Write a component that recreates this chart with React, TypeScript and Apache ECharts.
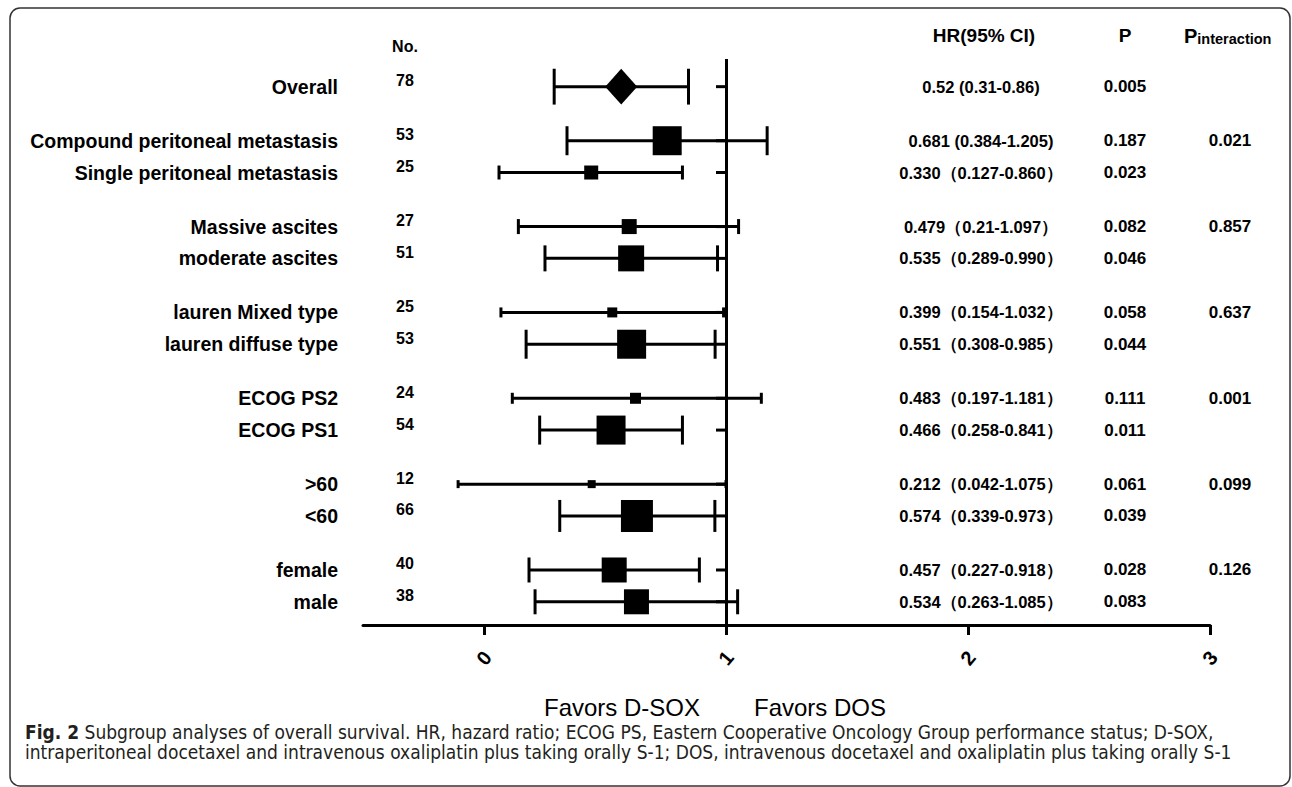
import React, { useEffect, useRef } from "react";
import * as echarts from "echarts";

const LABELS = [
  "Overall",
  "Compound peritoneal metastasis",
  "Single peritoneal metastasis",
  "Massive ascites",
  "moderate ascites",
  "lauren Mixed type",
  "lauren diffuse type",
  "ECOG PS2",
  "ECOG PS1",
  ">60",
  "<60",
  "female",
  "male",
];
const NUMBERS = ["78", "53", "25", "27", "51", "25", "53", "24", "54", "12", "66", "40", "38"];
const ROW_POS = [0, 1.7, 2.7, 4.4, 5.4, 7.1, 8.1, 9.8, 10.8, 12.5, 13.5, 15.2, 16.2];
const HR_POINT = [0.567, 0.757, 0.443, 0.6, 0.608, 0.53, 0.61, 0.626, 0.525, 0.445, 0.632, 0.538, 0.63];
const CI_LOW = [0.29, 0.343, 0.062, 0.142, 0.252, 0.07, 0.174, 0.117, 0.23, -0.107, 0.313, 0.186, 0.211];
const CI_HIGH = [0.845, 1.17, 0.82, 1.052, 0.965, 0.99, 0.955, 1.146, 0.82, 1.0, 0.954, 0.89, 1.048];
const MARKER_SIZE = [32, 29, 14, 15, 26, 10, 29, 11, 29, 8, 32, 25, 25];
const MARKER_SHAPE = ["diamond", "rect", "rect", "rect", "rect", "rect", "rect", "rect", "rect", "rect", "rect", "rect", "rect"];
const HR_TEXT = [
  "0.52 (0.31-0.86)",
  "0.681 (0.384-1.205)",
  "0.330（0.127-0.860）",
  "0.479（0.21-1.097）",
  "0.535（0.289-0.990）",
  "0.399（0.154-1.032）",
  "0.551（0.308-0.985）",
  "0.483（0.197-1.181）",
  "0.466（0.258-0.841）",
  "0.212（0.042-1.075）",
  "0.574（0.339-0.973）",
  "0.457（0.227-0.918）",
  "0.534（0.263-1.085）",
];
const P_VALUE = ["0.005", "0.187", "0.023", "0.082", "0.046", "0.058", "0.044", "0.111", "0.011", "0.061", "0.039", "0.028", "0.083"];
const P_INTERACTION = ["", "0.021", "", "0.857", "", "0.637", "", "0.001", "", "0.099", "", "0.126", ""];
const X_TICKS = [0, 1, 2, 3];
const CAPTION_1 =
  " Subgroup analyses of overall survival. HR, hazard ratio; ECOG PS, Eastern Cooperative Oncology Group performance status; D-SOX,";
const CAPTION_2 =
  "intraperitoneal docetaxel and intravenous oxaliplatin plus taking orally S-1; DOS, intravenous docetaxel and oxaliplatin plus taking orally S-1";

const FONT = "'Liberation Sans', Arial, sans-serif";
const CAPTION_FONT = "'DejaVu Sans Condensed', 'Liberation Sans Narrow', sans-serif";

export default function App() {
  const ref = useRef<HTMLDivElement>(null);
  useEffect(() => {
    if (!ref.current) return;
    const chart = echarts.init(ref.current, undefined, { renderer: "svg" });
    const capH = (i: number) => (MARKER_SHAPE[i] === "diamond" ? MARKER_SIZE[i] * 1.12 : MARKER_SIZE[i]);

    const option: any = {
      animation: false,
      backgroundColor: "#fff",
      grid: { left: 363, right: 82, top: 59, bottom: 162 },
      xAxis: {
        type: "value",
        min: -0.5,
        max: 3,
        axisLine: { show: true, onZero: false, lineStyle: { color: "#000", width: 3 } },
        axisTick: { show: true, customValues: X_TICKS, length: 10, lineStyle: { color: "#000", width: 3 } },
        axisLabel: {
          customValues: X_TICKS,
          rotate: 50,
          align: "center",
          verticalAlign: "middle",
          margin: 33,
          color: "#000",
          fontSize: 20,
          fontWeight: "bold",
          fontFamily: FONT,
        },
        splitLine: { show: false },
      },
      yAxis: {
        type: "value",
        inverse: true,
        min: -0.87,
        max: 16.93,
        show: false,
      },
      graphic: [
        {
          type: "rect",
          shape: { x: 10, y: 8, width: 1280, height: 778, r: 10 },
          style: { fill: "none", stroke: "#333", lineWidth: 1.5 },
          silent: true,
        },
        {
          type: "text",
          x: 405,
          y: 46,
          style: { text: "No.", fill: "#000", fontSize: 16, fontWeight: "bold", fontFamily: FONT, align: "center", verticalAlign: "middle" },
        },
        {
          type: "text",
          x: 984,
          y: 35,
          style: { text: "HR(95% CI)", fill: "#000", fontSize: 19, fontWeight: "bold", fontFamily: FONT, align: "center", verticalAlign: "middle" },
        },
        {
          type: "text",
          x: 1125,
          y: 35,
          style: { text: "P", fill: "#000", fontSize: 19, fontWeight: "bold", fontFamily: FONT, align: "center", verticalAlign: "middle" },
        },
        {
          type: "text",
          x: 1184,
          y: 36,
          style: {
            text: "{a|P}{b|interaction}",
            fill: "#000",
            align: "left",
            verticalAlign: "middle",
            rich: {
              a: { fontSize: 20, fontWeight: "bold", fontFamily: FONT, fill: "#000", verticalAlign: "bottom" },
              b: { fontSize: 14.5, fontWeight: "bold", fontFamily: FONT, fill: "#000", verticalAlign: "bottom" },
            },
          },
        },
        {
          type: "text",
          x: 622,
          y: 707,
          style: { text: "Favors D-SOX", fill: "#000", fontSize: 24, fontFamily: FONT, align: "center", verticalAlign: "middle" },
        },
        {
          type: "text",
          x: 754,
          y: 707,
          style: { text: "Favors DOS", fill: "#000", fontSize: 24, fontFamily: FONT, align: "left", verticalAlign: "middle" },
        },
        {
          type: "text",
          x: 25,
          y: 732,
          style: {
            text: "{b|Fig. 2}{r|" + CAPTION_1 + "}",
            align: "left",
            verticalAlign: "middle",
            rich: {
              b: { fontSize: 19, fontWeight: "bold", fontFamily: CAPTION_FONT, fill: "#231f20" },
              r: { fontSize: 19, fontFamily: CAPTION_FONT, fill: "#231f20" },
            },
          },
        },
        {
          type: "text",
          x: 25,
          y: 752,
          style: {
            text: CAPTION_2,
            fill: "#231f20",
            fontSize: 19,
            fontFamily: CAPTION_FONT,
            align: "left",
            verticalAlign: "middle",
          },
        },
      ],
      series: [
        {
          type: "scatter",
          name: "ticks",
          symbol: "rect",
          symbolSize: [10, 3],
          symbolOffset: [-5, 0],
          itemStyle: { color: "#000", opacity: 1 },
          data: ROW_POS.map((r) => [1, r]),
          silent: true,
          z: 2,
          markLine: {
            silent: true,
            symbol: ["none", "none"],
            label: { show: false },
            lineStyle: { color: "#000", width: 3, type: "solid" },
            data: [{ xAxis: 1 }],
          },
        },
        {
          type: "custom",
          name: "ci",
          clip: false,
          z: 3,
          data: ROW_POS.map((r, i) => [CI_LOW[i], CI_HIGH[i], r, capH(i)]),
          renderItem: (params: any, api: any) => {
            const row = api.value(2);
            const lo = api.coord([api.value(0), row]);
            const hi = api.coord([api.value(1), row]);
            const h = api.value(3) / 2;
            const style = { stroke: "#000", lineWidth: 3 };
            return {
              type: "group",
              children: [
                { type: "line", shape: { x1: lo[0], y1: lo[1], x2: hi[0], y2: hi[1] }, style },
                { type: "line", shape: { x1: lo[0], y1: lo[1] - h, x2: lo[0], y2: lo[1] + h }, style },
                { type: "line", shape: { x1: hi[0], y1: hi[1] - h, x2: hi[0], y2: hi[1] + h }, style },
              ],
            };
          },
        },
        {
          type: "scatter",
          name: "hr",
          z: 4,
          itemStyle: { color: "#000", opacity: 1 },
          data: ROW_POS.map((r, i) => ({
            value: [HR_POINT[i], r],
            symbol: MARKER_SHAPE[i],
            symbolSize: MARKER_SHAPE[i] === "diamond" ? [MARKER_SIZE[i], capH(i)] : MARKER_SIZE[i],
          })),
        },
        {
          type: "custom",
          name: "table",
          clip: false,
          z: 5,
          data: ROW_POS.map((r, i) => [1, r, i]),
          renderItem: (params: any, api: any) => {
            const i = api.value(2);
            const y = api.coord([1, api.value(1)])[1];
            const base = { fill: "#000", fontWeight: "bold", fontFamily: FONT, verticalAlign: "middle" };
            return {
              type: "group",
              children: [
                { type: "text", x: 338, y, style: { ...base, text: LABELS[i], fontSize: 19.5, align: "right" } },
                { type: "text", x: 405, y: y - 6, style: { ...base, text: NUMBERS[i], fontSize: 16, align: "center" } },
                { type: "text", x: 981, y, style: { ...base, text: HR_TEXT[i], fontSize: 16.5, align: "center" } },
                { type: "text", x: 1125, y, style: { ...base, text: P_VALUE[i], fontSize: 17, align: "center" } },
                { type: "text", x: 1230, y, style: { ...base, text: P_INTERACTION[i], fontSize: 17, align: "center" } },
              ],
            };
          },
        },
      ],
    };
    chart.setOption(option);
    return () => chart.dispose();
  }, []);
  return <div ref={ref} style={{ position: "absolute", left: 0, top: 0, width: 1292, height: 787 }} />;
}
